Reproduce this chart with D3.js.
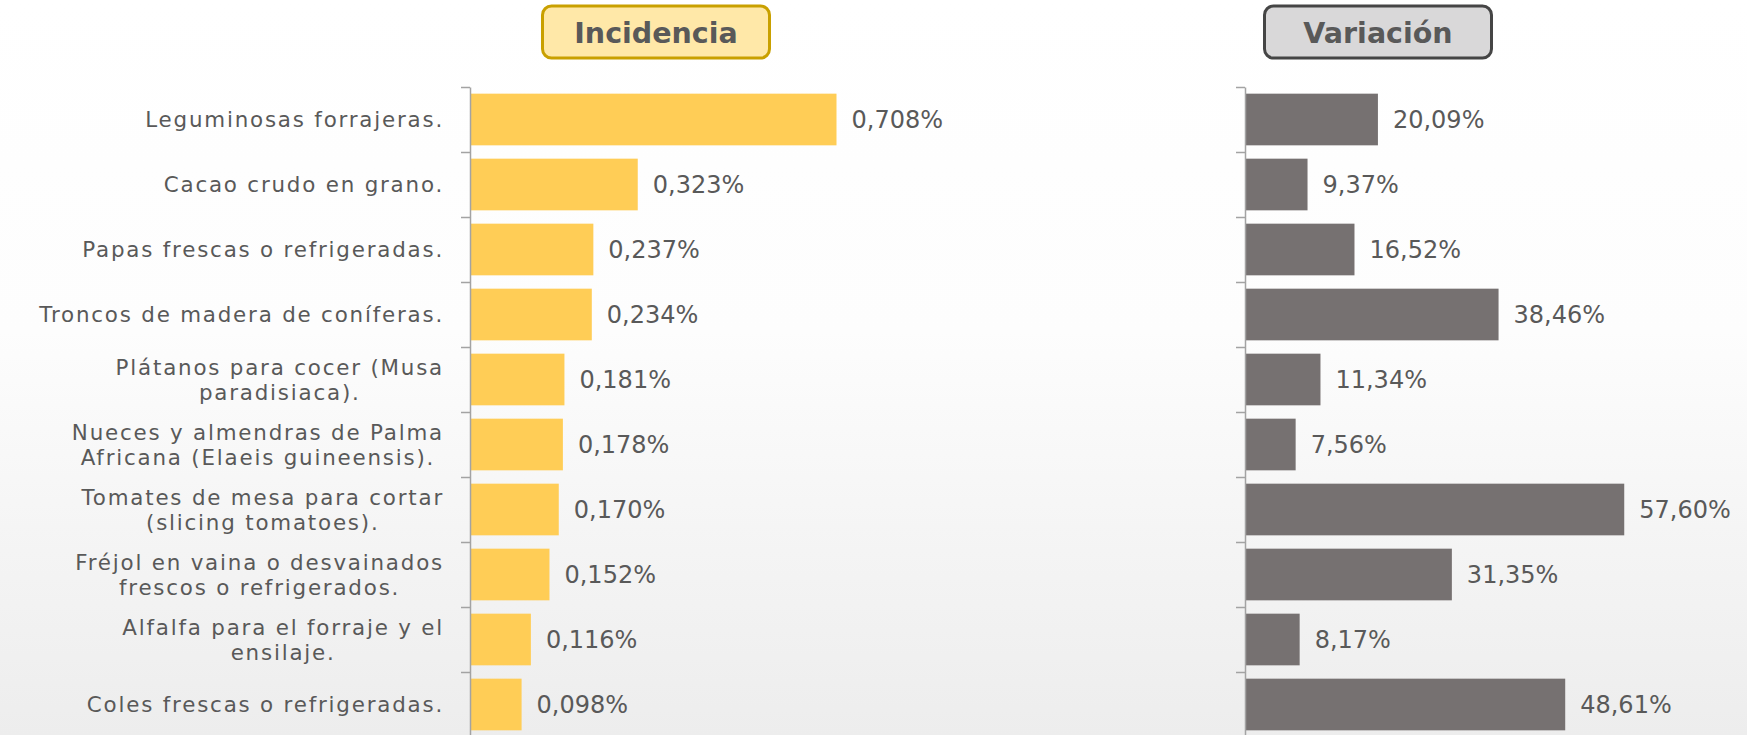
<!DOCTYPE html>
<html><head><meta charset="utf-8">
<script src="https://cdn.jsdelivr.net/npm/d3@7"></script>
<style>
html,body{margin:0;padding:0;background:#fff;}
svg{display:block;}
</style></head>
<body>
<script>
const categories = [
  ["Leguminosas forrajeras."],
  ["Cacao crudo en grano."],
  ["Papas frescas o refrigeradas."],
  ["Troncos de madera de coníferas."],
  ["Plátanos para cocer (Musa", "paradisiaca)."],
  ["Nueces y almendras de Palma", "Africana (Elaeis guineensis)."],
  ["Tomates de mesa para cortar", "(slicing tomatoes)."],
  ["Fréjol en vaina o desvainados", "frescos o refrigerados."],
  ["Alfalfa para el forraje y el", "ensilaje."],
  ["Coles frescas o refrigeradas."]
];
const incidencia = [0.00708, 0.00323, 0.00237, 0.00234, 0.00181, 0.00178, 0.00170, 0.00152, 0.00116, 0.00098];
const variacion = [0.2009, 0.0937, 0.1652, 0.3846, 0.1134, 0.0756, 0.5760, 0.3135, 0.0817, 0.4861];
const titles = ["Incidencia", "Variación"];

const W = 1747, H = 735;
const FONT = "'DejaVu Sans', sans-serif";
const textColor = "#595959";

const svg = d3.select("body").append("svg").attr("width", W).attr("height", H);

// background
const defs = svg.append("defs");
const grad = defs.append("linearGradient").attr("id", "bg").attr("x1", 0).attr("y1", 0).attr("x2", 0).attr("y2", 1);
grad.append("stop").attr("offset", "0%").attr("stop-color", "#ffffff");
grad.append("stop").attr("offset", "45%").attr("stop-color", "#fdfdfd");
grad.append("stop").attr("offset", "75%").attr("stop-color", "#f4f4f4");
grad.append("stop").attr("offset", "100%").attr("stop-color", "#ededed");
svg.append("rect").attr("width", W).attr("height", H).attr("fill", "url(#bg)");

const loc = d3.formatLocale({decimal: ",", thousands: ".", grouping: [3], currency: ["", ""]});
const fmtInc = loc.format(".3%");
const fmtVar = loc.format(".2%");

const idx = d3.range(categories.length);
const y = d3.scaleBand().domain(idx).range([87, 737]).paddingInner(0.205).paddingOuter(0.1025);
const yEdge = d3.scaleLinear().domain([0, categories.length]).range([87, 737]);

const xInc = d3.scaleLinear().domain([0, 0.008]).range([471, 884]);
const xVar = d3.scaleLinear().domain([0, 0.6]).range([1246, 1640]);

function panel(xScale, axisX, values, color, fmt) {
  const g = svg.append("g");
  g.selectAll("rect.bar").data(idx).join("rect").attr("class", "bar")
    .attr("x", xScale(0))
    .attr("y", i => y(i))
    .attr("width", i => xScale(values[i]) - xScale(0))
    .attr("height", y.bandwidth())
    .attr("fill", color);
  const ax = g.append("g").attr("transform", `translate(${axisX},0)`)
    .call(d3.axisLeft(yEdge).tickValues(d3.range(categories.length + 1)).tickSize(9).tickSizeOuter(0).tickFormat(""));
  ax.selectAll("path,line").attr("stroke", "#a3a3a3").attr("stroke-width", 1.5);
  g.selectAll("text.val").data(idx).join("text").attr("class", "val")
    .attr("x", i => xScale(values[i]) + 15)
    .attr("y", i => y(i) + y.bandwidth() / 2)
    .attr("dy", "0.36em")
    .attr("font-family", FONT).attr("font-size", 24)
    .attr("fill", textColor)
    .text(i => fmt(values[i]));
}
panel(xInc, 470, incidencia, "#FFCD56", fmtInc);
panel(xVar, 1245, variacion, "#767171", fmtVar);

// category labels
const labelRight = 444;
const lineH = 25;
idx.forEach(i => {
  const lines = categories[i];
  const cy = y(i) + y.bandwidth() / 2;
  const tg = svg.append("g");
  const ts = lines.map((l, k) => tg.append("text")
    .attr("font-family", FONT).attr("font-size", 21.4).attr("letter-spacing", 1.8)
    .attr("fill", textColor)
    .attr("y", cy + (k - (lines.length - 1) / 2) * lineH)
    .attr("dy", "0.36em")
    .attr("text-anchor", "middle")
    .text(l));
  const maxW = d3.max(ts, t => t.node().getComputedTextLength());
  ts.forEach(t => t.attr("x", labelRight - maxW / 2));
});

// title boxes
const boxes = [
  {cx: 656, fill: "#FFE8A8", stroke: "#C9A000"},
  {cx: 1378, fill: "#D9D8D9", stroke: "#454545"}
];
boxes.forEach((b, k) => {
  svg.append("rect").attr("x", b.cx - 113.5).attr("y", 6).attr("width", 227).attr("height", 52)
    .attr("rx", 9).attr("fill", b.fill).attr("stroke", b.stroke).attr("stroke-width", 3);
  svg.append("text").attr("x", b.cx).attr("y", 33).attr("dy", "0.36em").attr("text-anchor", "middle")
    .attr("font-family", FONT).attr("font-weight", "bold").attr("font-size", 28.5)
    .attr("fill", "#595959")
    .text(titles[k]);
});
</script>
</body></html>
